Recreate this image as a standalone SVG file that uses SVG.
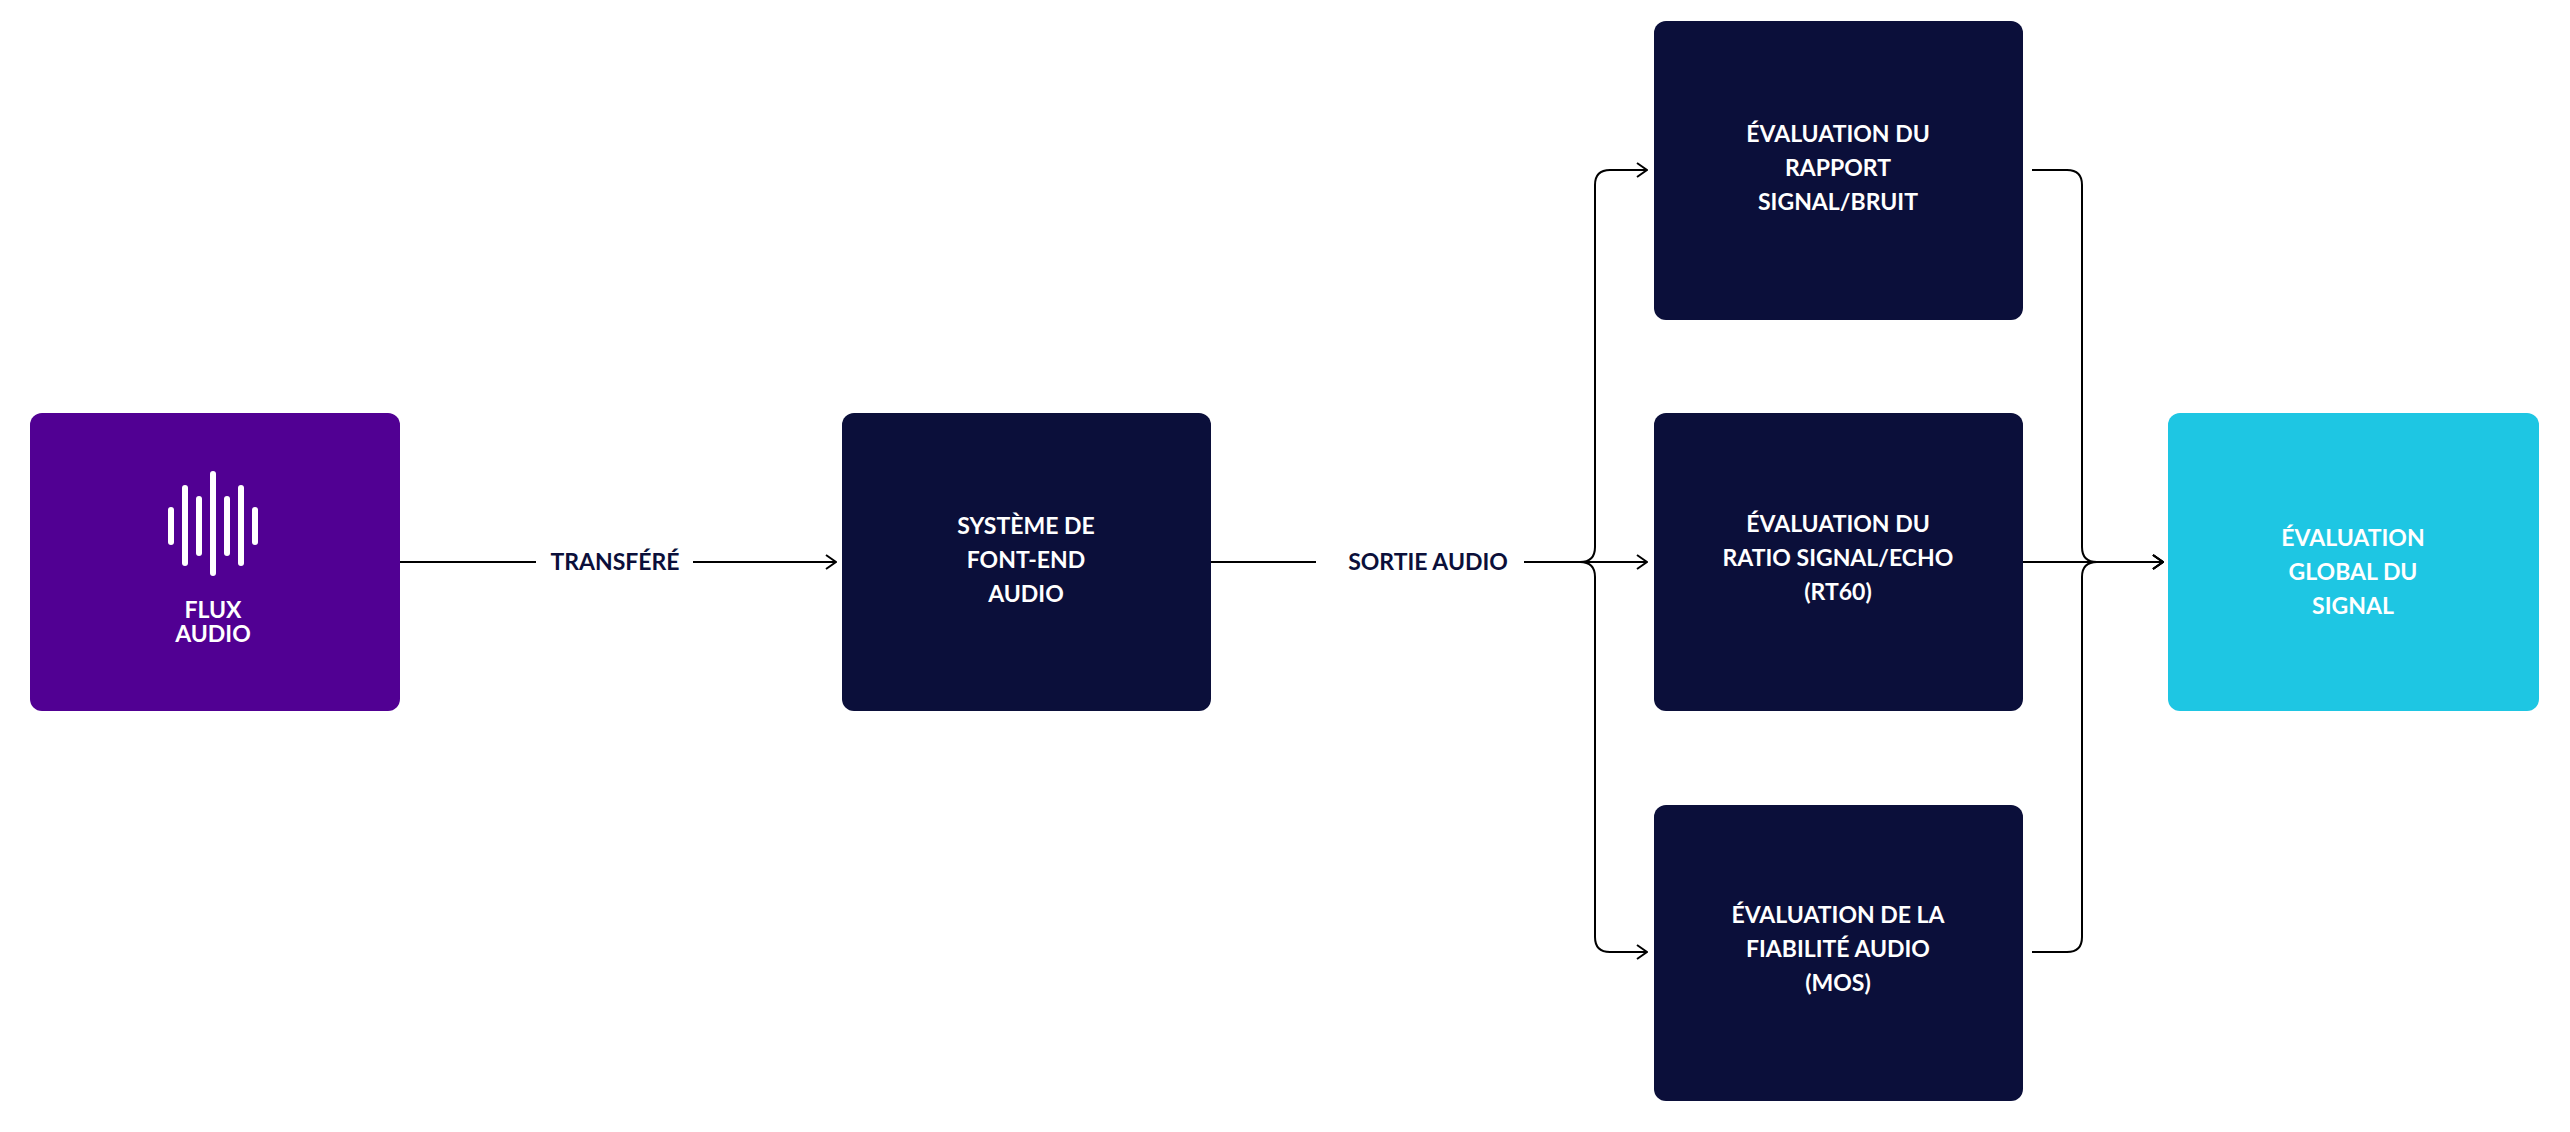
<svg xmlns="http://www.w3.org/2000/svg" width="2570" height="1132" viewBox="0 0 2570 1132">
<defs>
<style>
.box{fill:#0b0f3a}
.t{font-family:Lato,"Liberation Sans",sans-serif;font-weight:bold;font-size:23px;fill:#fff;text-anchor:middle}
.lbl{font-family:Lato,"Liberation Sans",sans-serif;font-weight:bold;font-size:23px;fill:#0b0f3a;text-anchor:middle}
.c{fill:none;stroke:#000;stroke-width:2}
.bar{stroke:#fff;stroke-width:6;stroke-linecap:round}
</style>
<marker id="a" viewBox="0 0 12 16" refX="11" refY="8" markerWidth="12" markerHeight="16" markerUnits="userSpaceOnUse" orient="auto"><path d="M1 1 L11 8 L1 15" fill="none" stroke="#000" stroke-width="2"/></marker>
</defs>
<rect width="2570" height="1132" fill="#fff"/>
<g id="connectors">
<path class="c" d="M400 562 H536"/>
<path class="c" d="M693 562 H836" marker-end="url(#a)"/>
<path class="c" d="M1211 562 H1316"/>
<path class="c" d="M1524 562 H1647" marker-end="url(#a)"/>
<path class="c" d="M1580 562 Q1595 562 1595 547 V185 Q1595 170 1610 170 H1647" marker-end="url(#a)"/>
<path class="c" d="M1580 562 Q1595 562 1595 577 V937 Q1595 952 1610 952 H1647" marker-end="url(#a)"/>
<path class="c" d="M2032 170 H2067 Q2082 170 2082 185 V547 Q2082 562 2097 562 H2163" marker-end="url(#a)"/>
<path class="c" d="M2032 952 H2067 Q2082 952 2082 937 V577 Q2082 562 2097 562 H2163" marker-end="url(#a)"/>
<path class="c" d="M2023 562 H2163" marker-end="url(#a)"/>
<text class="lbl" x="615" y="570">TRANSFÉRÉ</text>
<text class="lbl" x="1428" y="570">SORTIE AUDIO</text>
</g>
<g id="flux">
<rect x="30" y="413" width="370" height="298" rx="12" fill="#510093"/>
<line class="bar" x1="171" y1="510" x2="171" y2="542"/>
<line class="bar" x1="185" y1="488" x2="185" y2="563"/>
<line class="bar" x1="199" y1="499" x2="199" y2="553"/>
<line class="bar" x1="213" y1="474" x2="213" y2="573"/>
<line class="bar" x1="227" y1="499" x2="227" y2="553"/>
<line class="bar" x1="241" y1="488" x2="241" y2="563"/>
<line class="bar" x1="255" y1="510" x2="255" y2="542"/>
<text class="t" x="213" y="618">FLUX</text>
<text class="t" x="213" y="642">AUDIO</text>
</g>
<g id="frontend">
<rect class="box" x="842" y="413" width="369" height="298" rx="12"/>
<text class="t" x="1026" y="534">SYSTÈME DE</text>
<text class="t" x="1026" y="568">FONT-END</text>
<text class="t" x="1026" y="602">AUDIO</text>
</g>
<g id="snr">
<rect class="box" x="1654" y="21" width="369" height="299" rx="12"/>
<text class="t" x="1838" y="142">ÉVALUATION DU</text>
<text class="t" x="1838" y="176">RAPPORT</text>
<text class="t" x="1838" y="210">SIGNAL/BRUIT</text>
</g>
<g id="echo">
<rect class="box" x="1654" y="413" width="369" height="298" rx="12"/>
<text class="t" x="1838" y="532">ÉVALUATION DU</text>
<text class="t" x="1838" y="566">RATIO SIGNAL/ECHO</text>
<text class="t" x="1838" y="600">(RT60)</text>
</g>
<g id="mos">
<rect class="box" x="1654" y="805" width="369" height="296" rx="12"/>
<text class="t" x="1838" y="923">ÉVALUATION DE LA</text>
<text class="t" x="1838" y="957">FIABILITÉ AUDIO</text>
<text class="t" x="1838" y="991">(MOS)</text>
</g>
<g id="global">
<rect x="2168" y="413" width="371" height="298" rx="12" fill="#1ec6e3"/>
<text class="t" x="2353" y="546">ÉVALUATION</text>
<text class="t" x="2353" y="580">GLOBAL DU</text>
<text class="t" x="2353" y="614">SIGNAL</text>
</g>
</svg>
